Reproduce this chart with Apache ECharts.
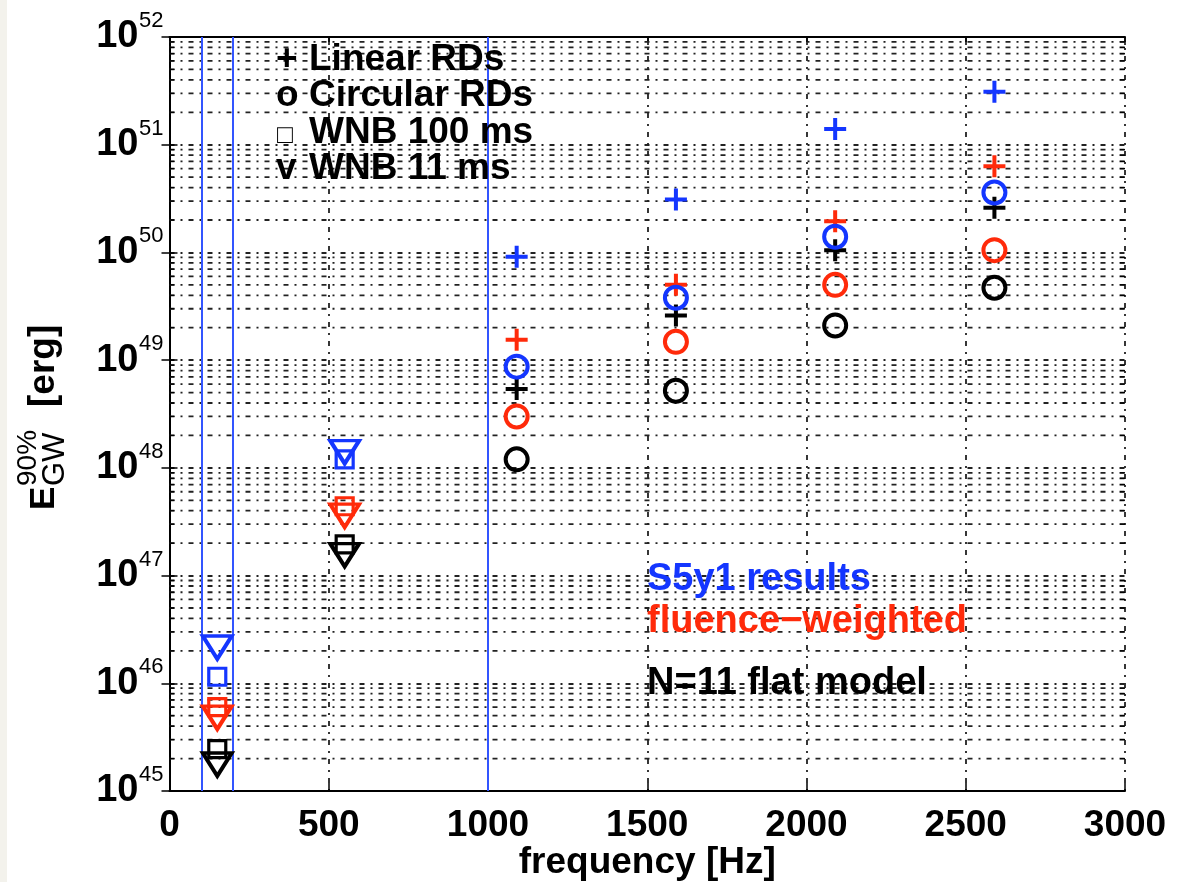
<!DOCTYPE html>
<html>
<head>
<meta charset="utf-8">
<script src="https://cdn.jsdelivr.net/npm/echarts@6/dist/echarts.min.js"></script>
<style>
html,body{margin:0;padding:0;background:#fff;}
#chart{width:1182px;height:882px;}
#strip{position:absolute;left:0;top:0;width:7px;height:882px;background:#f3f2ec;}
</style>
</head>
<body>
<div id="chart"></div>
<div id="strip"></div>
<script>
// ---- data ----
const rdFreqs = [1090, 1590, 2090, 2590];
const wnbFreqs = [150, 550];
const linearBlue = [9.1e49, 3.1e50, 1.4e51, 3.1e51];
const linearRed = [1.55e49, 5.0e49, 1.95e50, 6.3e50];
const linearBlack = [5.4e48, 2.6e49, 1.05e50, 2.6e50];
const circularBlue = [8.7e48, 3.8e49, 1.4e50, 3.6e50];
const circularRed = [3.0e48, 1.48e49, 5.0e49, 1.05e50];
const circularBlack = [1.2e48, 5.2e48, 2.1e49, 4.7e49];
const wnb100Blue = [1.15e46, 1.2e48];
const wnb100Red = [6.0e45, 4.4e47];
const wnb100Black = [2.45e45, 1.95e47];
const wnb11Blue = [2.15e46, 1.4e48];
const wnb11Red = [4.8e45, 3.6e47];
const wnb11Black = [1.76e45, 1.55e47];
const bandEdges = [100, 200, 1000];
const xMin = 0, xMax = 3000, xStep = 500;
const yMinExp = 45, yMaxExp = 52;
const legendLines = ['Linear RDs', 'Circular RDs', 'WNB 100 ms', 'WNB 11 ms'];
const legendSymbols = ['+', 'o', '\u25A1', 'v'];
const noteLines = ['S5y1 results', 'fluence\u2212weighted', 'N=11 flat model'];

// ---- styling ----
const FONT = '"Liberation Sans", Arial, Helvetica, sans-serif';
const BLUE = '#1436ff', RED = '#ff2a0a', BLACK = '#000000';
const LINEBLUE = '#3355ff';
const DOT = [5, 6, 2, 6];
const GRIDC = '#222222';
const GRIDW = 1.8;

const minorValues = [];
for (let e = yMinExp; e < yMaxExp; e++) for (let m = 2; m <= 9; m++) minorValues.push(m * Math.pow(10, e));

const SYM = {
  plus: {symbol: 'path://M10,0L10,20M0,10L20,10', size: 22, bw: 4},
  circle: {symbol: 'circle', size: 22, bw: 4},
  square: {symbol: 'rect', size: 17, bw: 3.2},
  tri: {symbol: 'path://M0,0L20,0L10,17Z', size: [29, 23], bw: 3.8}
};
function pts(xs, ys) { return xs.map((x, i) => [x, ys[i]]); }
function sc(name, xs, ys, kind, color) {
  const s = SYM[kind];
  return {
    type: 'scatter', name: name, data: pts(xs, ys), symbol: s.symbol, symbolSize: s.size,
    itemStyle: {color: 'transparent', borderColor: color, borderWidth: s.bw, opacity: 1},
    emphasis: {disabled: true}, silent: true, z: 5
  };
}

const chart = echarts.init(document.getElementById('chart'), null, {renderer: 'canvas'});
const grid = {left: 169.5, top: 37, right: 57, bottom: 91, containLabel: false, outerBoundsMode: 'none'};

const option = {
  backgroundColor: '#ffffff',
  animation: false,
  grid: grid,
  xAxis: [{
    type: 'value', min: xMin, max: xMax, interval: xStep,
    name: 'frequency [Hz]', nameLocation: 'middle', nameGap: 53, nameMoveOverlap: false,
    nameTextStyle: {fontFamily: FONT, fontWeight: 'bold', fontSize: 37, color: '#000', verticalAlign: 'top'},
    axisLine: {show: true, lineStyle: {color: '#000', width: 2}},
    axisTick: {show: true, inside: true, length: 8, lineStyle: {color: '#000', width: 1.5}},
    axisLabel: {fontFamily: FONT, fontWeight: 'bold', fontSize: 37, color: '#000', margin: 16,
      formatter: v => String(v)},
    splitLine: {show: true, lineStyle: {color: GRIDC, width: GRIDW, type: DOT}}
  }, {
    type: 'value', position: 'top', min: xMin, max: xMax, interval: xStep,
    axisLine: {show: true, lineStyle: {color: '#000', width: 2}},
    axisTick: {show: true, inside: true, length: 8, lineStyle: {color: '#000', width: 1.5}},
    axisLabel: {show: false}, splitLine: {show: false}
  }],
  yAxis: [{
    type: 'log', logBase: 10, min: Math.pow(10, yMinExp), max: Math.pow(10, yMaxExp),
    axisLine: {show: true, lineStyle: {color: '#000', width: 2}},
    axisTick: {show: true, inside: true, length: 8, lineStyle: {color: '#000', width: 1.5}},
    axisLabel: {
      margin: 6, showMinLabel: true, showMaxLabel: true, padding: [0, 0, 2, 0], align: 'right',
      formatter: v => '{s|' + Math.round(Math.log10(v)) + '}\n{b|10}',
      rich: {
        b: {fontFamily: FONT, fontWeight: 'bold', fontSize: 38, color: '#000', lineHeight: 30, padding: [0, 25, 0, 0]},
        s: {fontFamily: FONT, fontSize: 22, color: '#000', lineHeight: 2, padding: [0, 0, 0, 42]}
      }
    },
    splitLine: {show: true, lineStyle: {color: GRIDC, width: GRIDW, type: DOT}}
  }, {
    type: 'log', logBase: 10, position: 'right', min: Math.pow(10, yMinExp), max: Math.pow(10, yMaxExp),
    axisLine: {show: true, lineStyle: {color: '#000', width: 2}},
    axisTick: {show: true, inside: true, length: 8, lineStyle: {color: '#000', width: 1.5}},
    axisLabel: {show: false}, splitLine: {show: false}
  }],
  series: [
    {
      type: 'custom', name: 'minor', silent: true, z: 1,
      data: minorValues.map(v => [xMin, v]),
      renderItem: function (params, api) {
        const y = api.coord([xMin, api.value(1)])[1];
        const l = params.coordSys.x, r = l + params.coordSys.width;
        return {type: 'group', children: [
          {type: 'line', shape: {x1: l, y1: y, x2: r, y2: y}, style: {stroke: GRIDC, lineWidth: GRIDW, lineDash: DOT}},
          {type: 'line', shape: {x1: l, y1: y, x2: l + 5, y2: y}, style: {stroke: '#000', lineWidth: 1.2}},
          {type: 'line', shape: {x1: r - 5, y1: y, x2: r, y2: y}, style: {stroke: '#000', lineWidth: 1.2}}
        ]};
      }
    },
    {
      type: 'scatter', name: 'bands', data: [], silent: true, z: 3,
      markLine: {
        silent: true, symbol: ['none', 'none'], label: {show: false},
        lineStyle: {color: LINEBLUE, width: 2, type: 'solid'},
        data: bandEdges.map(x => ({xAxis: x}))
      }
    },
    sc('wnb100Black', wnbFreqs, wnb100Black, 'square', BLACK),
    sc('wnb11Black', wnbFreqs, wnb11Black, 'tri', BLACK),
    sc('wnb100Red', wnbFreqs, wnb100Red, 'square', RED),
    sc('wnb11Red', wnbFreqs, wnb11Red, 'tri', RED),
    sc('wnb100Blue', wnbFreqs, wnb100Blue, 'square', BLUE),
    sc('wnb11Blue', wnbFreqs, wnb11Blue, 'tri', BLUE),
    sc('linearBlack', rdFreqs, linearBlack, 'plus', BLACK),
    sc('circularBlack', rdFreqs, circularBlack, 'circle', BLACK),
    sc('linearRed', rdFreqs, linearRed, 'plus', RED),
    sc('circularRed', rdFreqs, circularRed, 'circle', RED),
    sc('linearBlue', rdFreqs, linearBlue, 'plus', BLUE),
    sc('circularBlue', rdFreqs, circularBlue, 'circle', BLUE)
  ],
  graphic: []
};

// legend text block (top left, inside axes)
const legY = [60, 96, 133, 169];
const g = [];
legendLines.forEach((t, i) => {
  const isBox = legendSymbols[i] === '\u25A1';
  g.push({type: 'text', x: isBox ? 277 : 276, y: legY[i] + (isBox ? 3 : 0), z: 20,
    style: {text: legendSymbols[i], fill: '#000', font: (isBox ? 'normal 26px ' : 'bold 37px ') + FONT, verticalAlign: 'middle', align: 'left'}});
  g.push({type: 'text', x: 309, y: legY[i], z: 20,
    style: {text: t, fill: '#000', font: 'bold 37px ' + FONT, verticalAlign: 'middle', align: 'left'}});
});
// colour notes
const noteY = [580, 622, 684];
const noteC = [BLUE, RED, BLACK];
noteLines.forEach((t, i) => {
  g.push({type: 'text', x: 647, y: noteY[i], z: 20,
    style: {text: t, fill: noteC[i], font: 'bold 38px ' + FONT, verticalAlign: 'middle', align: 'left'}});
});
// y-axis title: E^{90%}_{GW} [erg], rotated (local origin = baseline start of "E")
g.push({type: 'group', x: 57, y: 510, rotation: Math.PI / 2, z: 20, children: [
  {type: 'text', x: 0, y: -12.5, style: {text: 'E', fill: '#000', font: 'bold 35px ' + FONT, verticalAlign: 'middle', align: 'left'}},
  {type: 'text', x: 24, y: -29, style: {text: '90%', fill: '#000', font: 'normal 28px ' + FONT, verticalAlign: 'middle', align: 'left'}},
  {type: 'text', x: 24, y: -2, style: {text: 'GW', fill: '#000', font: 'normal 31px ' + FONT, verticalAlign: 'middle', align: 'left'}},
  {type: 'text', x: 103, y: -13, style: {text: '[erg]', fill: '#000', font: 'bold 37px ' + FONT, verticalAlign: 'middle', align: 'left'}}
]});
option.graphic = g;

chart.setOption(option);
</script>
</body>
</html>
